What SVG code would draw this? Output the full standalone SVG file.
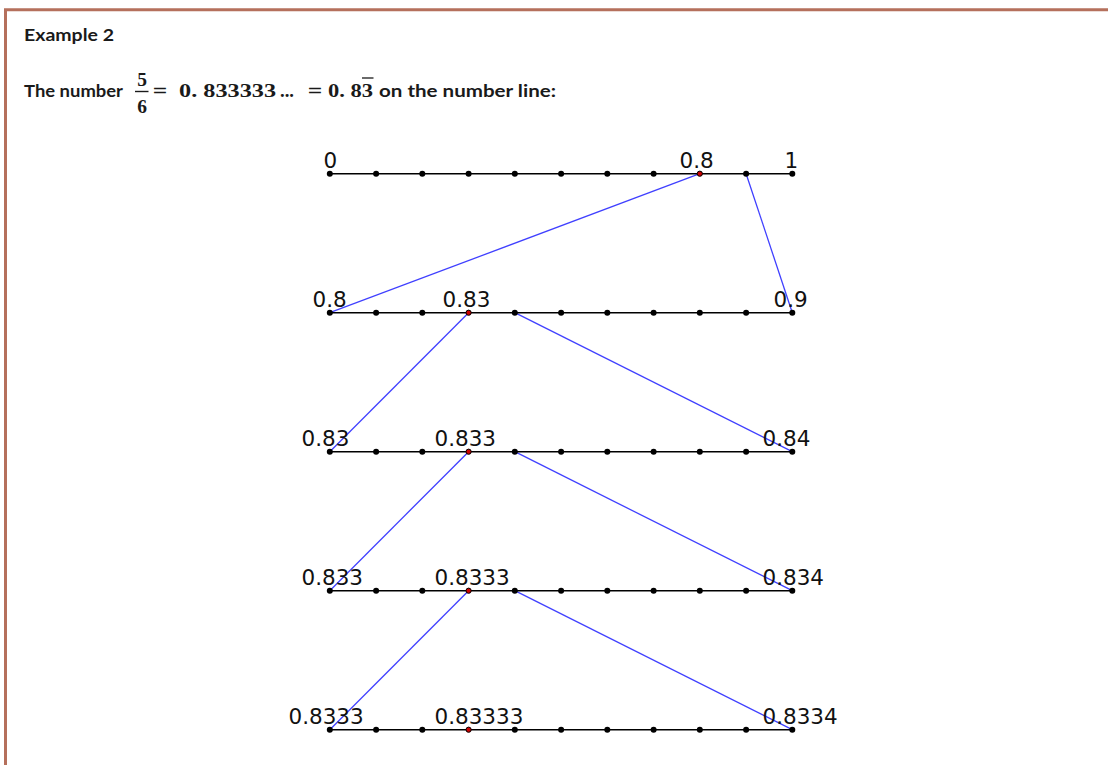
<svg xmlns="http://www.w3.org/2000/svg" width="1108" height="765" viewBox="0 0 1108 765">
<defs>
<style>
.hdr{font-family:Lato,"Open Sans","Liberation Sans",sans-serif;font-weight:bold;font-size:17.5px;fill:#1a1a1a}
.math{font-family:"Liberation Serif","DejaVu Serif",serif;font-weight:bold;font-size:19.5px;fill:#1a1a1a}
.eq{font-family:"DejaVu Serif","Liberation Serif",serif;font-size:19px;fill:#1a1a1a;text-anchor:middle}
.lbl{font-family:"DejaVu Sans","Liberation Sans",sans-serif;font-size:21.5px;fill:#111}
.axis{stroke:#000;stroke-width:1.6;fill:none}
.dot{fill:#000}
.red{fill:#cc0000;stroke:#000;stroke-width:1}
.conn{stroke:#4040ff;stroke-width:1.3;fill:none}
.border{stroke:#b5705c;stroke-width:3;fill:none}
</style>
</defs>
<rect width="1108" height="765" fill="#fff"/>
<path class="border" d="M5.5 765 V9.7 H1108"/>

<g id="header">
<text class="hdr" x="24" y="41" textLength="90" lengthAdjust="spacingAndGlyphs">Example 2</text>
<text class="hdr" x="24" y="96.5" textLength="99" lengthAdjust="spacingAndGlyphs">The number</text>
<text class="math" x="142" y="86" text-anchor="middle">5</text>
<line x1="135" y1="91.5" x2="148.5" y2="91.5" stroke="#1a1a1a" stroke-width="1.4"/>
<text class="math" x="142" y="112.5" text-anchor="middle">6</text>
<text class="eq" x="160" y="97">=</text>
<text class="math" x="179" y="96.5" textLength="97" lengthAdjust="spacingAndGlyphs">0. 833333</text>
<text class="math" x="280" y="96.5" textLength="14" lengthAdjust="spacingAndGlyphs">...</text>
<text class="eq" x="315" y="97">=</text>
<text class="math" x="328" y="96.5" textLength="45" lengthAdjust="spacingAndGlyphs">0. 83</text>
<line x1="362" y1="78" x2="373.5" y2="78" stroke="#1a1a1a" stroke-width="1.3"/>
<text class="hdr" x="379" y="96.5" textLength="177" lengthAdjust="spacingAndGlyphs">on the number line:</text>
</g>

<g id="connectors">
<line class="conn" x1="699.8" y1="173.7" x2="329.8" y2="312.7"/>
<line class="conn" x1="746.1" y1="173.7" x2="792.3" y2="312.7"/>
<line class="conn" x1="468.6" y1="312.7" x2="329.8" y2="451.7"/>
<line class="conn" x1="514.8" y1="312.7" x2="792.3" y2="451.7"/>
<line class="conn" x1="468.6" y1="451.7" x2="329.8" y2="590.7"/>
<line class="conn" x1="514.8" y1="451.7" x2="792.3" y2="590.7"/>
<line class="conn" x1="468.6" y1="590.7" x2="329.8" y2="729.7"/>
<line class="conn" x1="514.8" y1="590.7" x2="792.3" y2="729.7"/>
</g>

<g id="line1">
<line class="axis" x1="329.8" y1="173.7" x2="792.3" y2="173.7"/>
<circle class="dot" cx="329.8" cy="173.7" r="3"/><circle class="dot" cx="376.1" cy="173.7" r="3"/><circle class="dot" cx="422.3" cy="173.7" r="3"/><circle class="dot" cx="468.6" cy="173.7" r="3"/><circle class="dot" cx="514.8" cy="173.7" r="3"/><circle class="dot" cx="561.1" cy="173.7" r="3"/><circle class="dot" cx="607.3" cy="173.7" r="3"/><circle class="dot" cx="653.6" cy="173.7" r="3"/><circle class="red" cx="699.8" cy="173.7" r="2.6"/><circle class="dot" cx="746.1" cy="173.7" r="3"/><circle class="dot" cx="792.3" cy="173.7" r="3"/>
<text class="lbl" x="323.5" y="168.2">0</text>
<text class="lbl" x="679.5" y="168.2">0.8</text>
<text class="lbl" x="784.5" y="168.2">1</text>
</g>

<g id="line2">
<line class="axis" x1="329.8" y1="312.7" x2="792.3" y2="312.7"/>
<circle class="dot" cx="329.8" cy="312.7" r="3"/><circle class="dot" cx="376.1" cy="312.7" r="3"/><circle class="dot" cx="422.3" cy="312.7" r="3"/><circle class="red" cx="468.6" cy="312.7" r="2.6"/><circle class="dot" cx="514.8" cy="312.7" r="3"/><circle class="dot" cx="561.1" cy="312.7" r="3"/><circle class="dot" cx="607.3" cy="312.7" r="3"/><circle class="dot" cx="653.6" cy="312.7" r="3"/><circle class="dot" cx="699.8" cy="312.7" r="3"/><circle class="dot" cx="746.1" cy="312.7" r="3"/><circle class="dot" cx="792.3" cy="312.7" r="3"/>
<text class="lbl" x="312.5" y="307">0.8</text>
<text class="lbl" x="442.5" y="307">0.83</text>
<text class="lbl" x="773.5" y="307">0.9</text>
</g>

<g id="line3">
<line class="axis" x1="329.8" y1="451.7" x2="792.3" y2="451.7"/>
<circle class="dot" cx="329.8" cy="451.7" r="3"/><circle class="dot" cx="376.1" cy="451.7" r="3"/><circle class="dot" cx="422.3" cy="451.7" r="3"/><circle class="red" cx="468.6" cy="451.7" r="2.6"/><circle class="dot" cx="514.8" cy="451.7" r="3"/><circle class="dot" cx="561.1" cy="451.7" r="3"/><circle class="dot" cx="607.3" cy="451.7" r="3"/><circle class="dot" cx="653.6" cy="451.7" r="3"/><circle class="dot" cx="699.8" cy="451.7" r="3"/><circle class="dot" cx="746.1" cy="451.7" r="3"/><circle class="dot" cx="792.3" cy="451.7" r="3"/>
<text class="lbl" x="301.5" y="446.2">0.83</text>
<text class="lbl" x="434.5" y="446.2">0.833</text>
<text class="lbl" x="762.5" y="446.2">0.84</text>
</g>

<g id="line4">
<line class="axis" x1="329.8" y1="590.7" x2="792.3" y2="590.7"/>
<circle class="dot" cx="329.8" cy="590.7" r="3"/><circle class="dot" cx="376.1" cy="590.7" r="3"/><circle class="dot" cx="422.3" cy="590.7" r="3"/><circle class="red" cx="468.6" cy="590.7" r="2.6"/><circle class="dot" cx="514.8" cy="590.7" r="3"/><circle class="dot" cx="561.1" cy="590.7" r="3"/><circle class="dot" cx="607.3" cy="590.7" r="3"/><circle class="dot" cx="653.6" cy="590.7" r="3"/><circle class="dot" cx="699.8" cy="590.7" r="3"/><circle class="dot" cx="746.1" cy="590.7" r="3"/><circle class="dot" cx="792.3" cy="590.7" r="3"/>
<text class="lbl" x="301.5" y="585.2">0.833</text>
<text class="lbl" x="434.5" y="585.2">0.8333</text>
<text class="lbl" x="762.5" y="585.2">0.834</text>
</g>

<g id="line5">
<line class="axis" x1="329.8" y1="729.7" x2="792.3" y2="729.7"/>
<circle class="dot" cx="329.8" cy="729.7" r="3"/><circle class="dot" cx="376.1" cy="729.7" r="3"/><circle class="dot" cx="422.3" cy="729.7" r="3"/><circle class="red" cx="468.6" cy="729.7" r="2.6"/><circle class="dot" cx="514.8" cy="729.7" r="3"/><circle class="dot" cx="561.1" cy="729.7" r="3"/><circle class="dot" cx="607.3" cy="729.7" r="3"/><circle class="dot" cx="653.6" cy="729.7" r="3"/><circle class="dot" cx="699.8" cy="729.7" r="3"/><circle class="dot" cx="746.1" cy="729.7" r="3"/><circle class="dot" cx="792.3" cy="729.7" r="3"/>
<text class="lbl" x="288.5" y="724.2">0.8333</text>
<text class="lbl" x="434.5" y="724.2">0.83333</text>
<text class="lbl" x="762.5" y="724.2">0.8334</text>
</g>
</svg>
